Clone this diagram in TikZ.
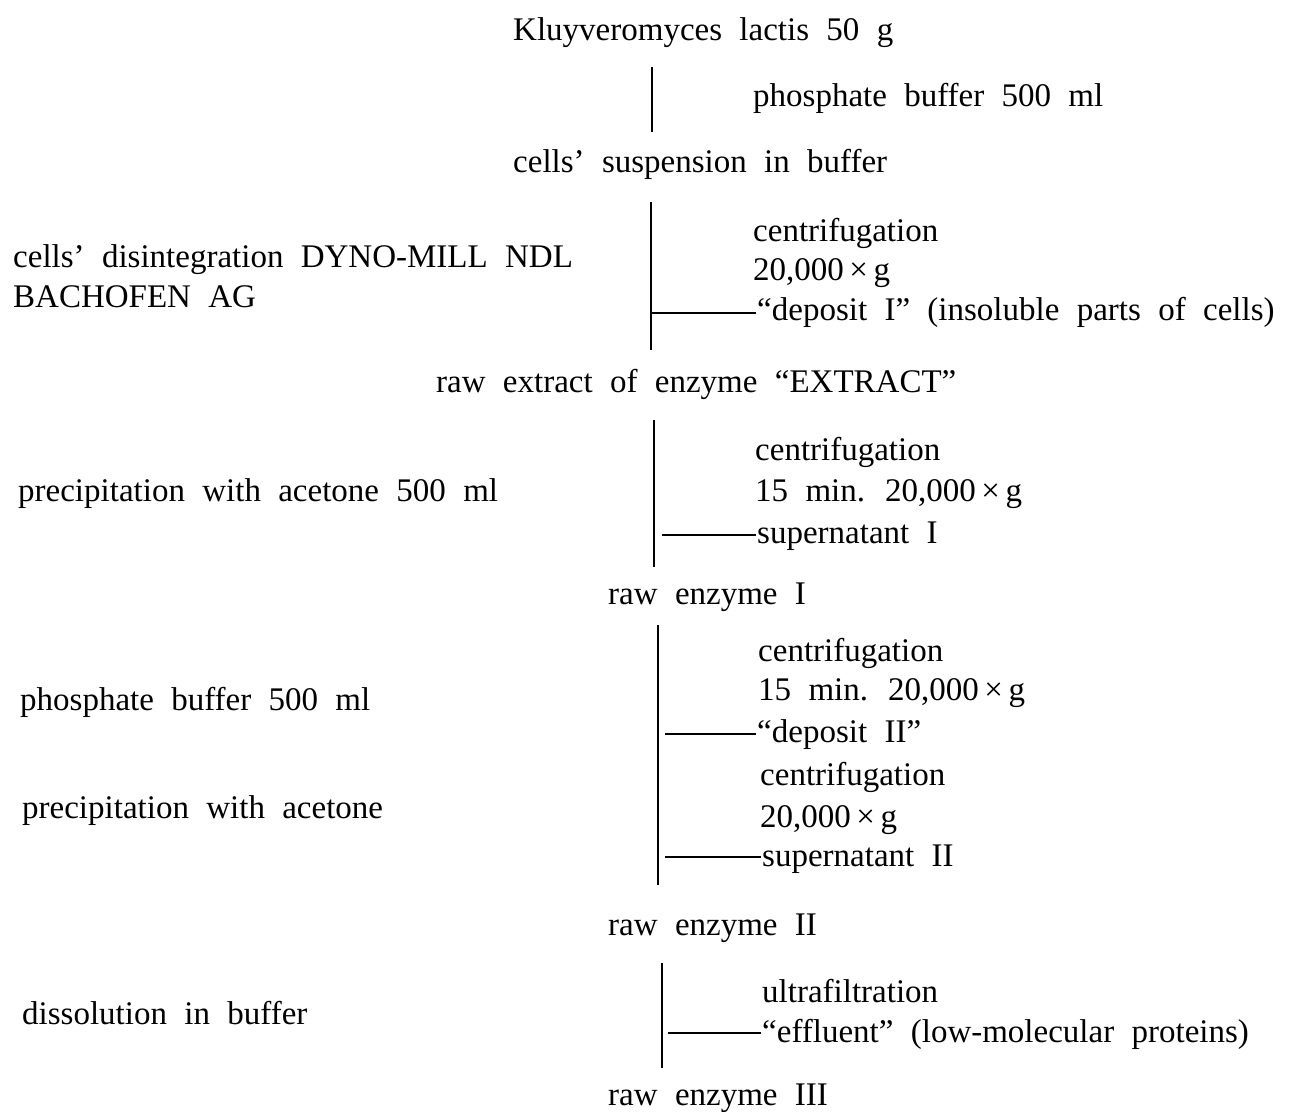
\documentclass[tikz,border=0pt]{standalone}
\usepackage{fontspec}
\setmainfont{Liberation Serif}[WordSpace=2.1]
\begin{document}
\begin{tikzpicture}[x=1pt,y=-1pt,
  txt/.style={anchor=base west,inner sep=0pt,font=\fontsize{33}{38}\selectfont},
  vline/.style={line width=1.8pt},
  tick/.style={line width=1.3pt}]
\useasboundingbox (0,0) rectangle (1289,1111);
% main column
\node[txt] (kl) at (513,40) {Kluyveromyces lactis 50 g};
\node[txt] (pb1) at (753,106) {phosphate buffer 500 ml};
\node[txt] (susp) at (513,172) {cells’ suspension in buffer};
% block 2
\node[txt] (c1) at (753,241) {centrifugation};
\node[txt] (g1) at (753,280) {20,000\,×\,g};
\node[txt] (dep1) at (757,320) {“deposit I” (insoluble parts of cells)};
\node[txt] (dis) at (13,267) {cells’ disintegration DYNO-MILL NDL};
\node[txt] (bach) at (13,307) {BACHOFEN AG};
\node[txt] (ext) at (436,392) {raw extract of enzyme “EXTRACT”};
% block 3
\node[txt] (c2) at (755,460) {centrifugation};
\node[txt] (g2) at (755,501) {15 min. 20,000\,×\,g};
\node[txt] (sup1) at (757,543) {supernatant I};
\node[txt] (prec1) at (18,501) {precipitation with acetone 500 ml};
\node[txt] (re1) at (608,604) {raw enzyme I};
% block 4
\node[txt] (c3) at (758,661) {centrifugation};
\node[txt] (g3) at (758,700) {15 min. 20,000\,×\,g};
\node[txt] (dep2) at (757,742) {“deposit II”};
\node[txt] (c4) at (760,785) {centrifugation};
\node[txt] (g4) at (760,827) {20,000\,×\,g};
\node[txt] (sup2) at (762,866) {supernatant II};
\node[txt] (pb2) at (20,710) {phosphate buffer 500 ml};
\node[txt] (prec2) at (22,818) {precipitation with acetone};
\node[txt] (re2) at (608,935) {raw enzyme II};
% block 5
\node[txt] (uf) at (762,1002) {ultrafiltration};
\node[txt] (eff) at (762,1042) {“effluent” (low-molecular proteins)};
\node[txt] (diss) at (22,1024) {dissolution in buffer};
\node[txt] (re3) at (608,1105) {raw enzyme III};
% line end points
\coordinate (v1a) at (652,67);  \coordinate (v1b) at (652,132);
\coordinate (v2a) at (651,202); \coordinate (v2b) at (651,350);
\coordinate (v3a) at (654,420); \coordinate (v3b) at (654,567);
\coordinate (v4a) at (658,625); \coordinate (v4b) at (658,885);
\coordinate (v5a) at (662,963); \coordinate (v5b) at (662,1068);
\draw[vline] (v1a) -- (v1b);
\draw[vline] (v2a) -- (v2b);
\draw[vline] (v3a) -- (v3b);
\draw[vline] (v4a) -- (v4b);
\draw[vline] (v5a) -- (v5b);
% side ticks
\coordinate (t1) at (652,313); \coordinate (t1e) at (756,313);
\coordinate (t2) at (662,535); \coordinate (t2e) at (756,535);
\coordinate (t3) at (665,734); \coordinate (t3e) at (756,734);
\coordinate (t4) at (665,857); \coordinate (t4e) at (761,857);
\coordinate (t5) at (668,1033); \coordinate (t5e) at (761,1033);
\draw[tick] (t1) -- (t1e);
\draw[tick] (t2) -- (t2e);
\draw[tick] (t3) -- (t3e);
\draw[tick] (t4) -- (t4e);
\draw[tick] (t5) -- (t5e);
\end{tikzpicture}
\end{document}
